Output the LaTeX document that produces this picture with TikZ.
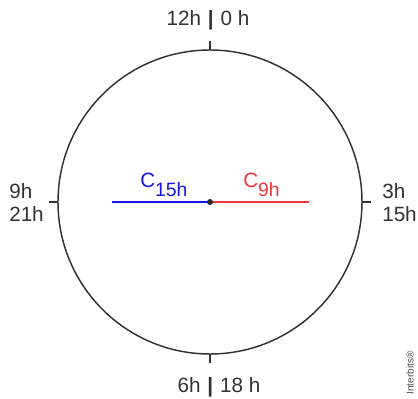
\documentclass[tikz,border=0pt]{standalone}
\usepackage{fontspec}
\setmainfont{Liberation Sans}
\usetikzlibrary{positioning}

\definecolor{hblue}{RGB}{20,20,235}
\definecolor{hred}{RGB}{235,55,60}
\definecolor{rim}{RGB}{50,50,50}

\begin{document}
\begin{tikzpicture}[x=0.75pt,y=0.75pt,
  lbl/.style={font=\fontsize{15.5}{18}\selectfont, inner sep=0pt, text=rim},
  tick/.style={draw=rim, line width=1.1pt},
  hand/.style={line width=1.5pt}]
\useasboundingbox (-210,-197) rectangle (208,202);

% clock face and the four ticks
\draw[rim, line width=1.1pt] (0,0) circle[radius=114pt];
\foreach \a in {0,90,180,270} {
    \draw[tick] (\a:152) -- (\a:161);
}

% hours
\node[lbl, anchor=base] (top) at (-2,176) {12h\hspace{0.33em}{\bfseries|}\hspace{0.33em}0 h};
\node[lbl, anchor=base] (bot) at (9,-191) {6h\hspace{0.33em}{\bfseries|}\hspace{0.33em}18 h};
\node[lbl, anchor=base west] (l1) at (-201,3) {9h};
\node[lbl, anchor=base west] (l2) at (-201,-20) {21h};
\node[lbl, anchor=base west] (r1) at (172,3) {3h};
\node[lbl, anchor=base west] (r2) at (172,-20) {15h};

% the two segments from the centre
\coordinate (c) at (0,0);
\coordinate (w) at (-98,0);
\coordinate (e) at (99,0);
\draw[hand, hblue] (w) -- (c);
\draw[hand, hred] (c) -- (e);
\node[circle, fill=rim!80!black, inner sep=0pt, minimum size=4.5pt] (o) at (c) {};

\node[lbl, anchor=base west, text=hblue] (c15) at (-70,14)
    {C\raisebox{-6.5pt}{\fontsize{14.5}{16}\selectfont 15h}};
\node[lbl, anchor=base west, text=hred] (c9) at (33,14)
    {C\raisebox{-6.5pt}{\fontsize{14.5}{16}\selectfont 9h}};

\node[font=\fontsize{7.5}{8}\selectfont, rotate=90, text=black!70, inner sep=0pt] (ib) at (200,-171) {Interbits®};
\end{tikzpicture}
\end{document}
